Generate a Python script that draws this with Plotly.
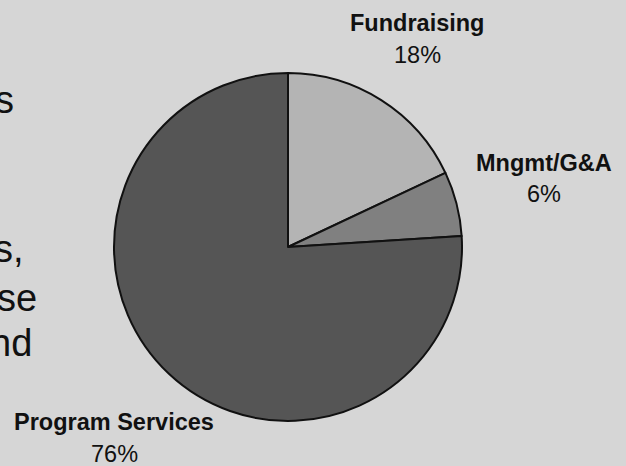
import plotly.graph_objects as go

categories = ["Fundraising", "Mngmt/G&A", "Program Services"]
values = [18, 6, 76]
slice_colors = ["#b4b4b4", "#808080", "#555555"]

# label positions in pixels (x, name line y, percent line y)
label_pos = {
    "Fundraising": (417, 23, 55),
    "Mngmt/G&A": (544, 163, 194),
    "Program Services": (114, 422, 454),
}

# cropped slide text at the left edge (as in the source photo)
side_text = ["s", "s,", "se", "nd"]
side_pos = [(16, 100), (26, 249), (39, 298), (34, 343)]

W, H = 626, 466
fig = go.Figure()
fig.add_trace(go.Pie(
    labels=categories,
    values=values,
    sort=False,
    direction="clockwise",
    rotation=0,
    textinfo="none",
    hoverinfo="label+percent",
    marker=dict(colors=slice_colors, line=dict(color="#111111", width=2)),
    domain=dict(x=[114 / W, 462 / W], y=[1 - 421 / H, 1 - 73 / H]),
    showlegend=False,
))

ann = []
for cat, val in zip(categories, values):
    x, y1, y2 = label_pos[cat]
    ann.append(dict(x=x / W, y=1 - y1 / H, xref="paper", yref="paper",
                    text=f"<b>{cat}</b>", showarrow=False, xanchor="center", yanchor="middle",
                    font=dict(family="Liberation Sans", size=23.5, color="#111111")))
    ann.append(dict(x=x / W, y=1 - y2 / H, xref="paper", yref="paper",
                    text=f"{val}%", showarrow=False, xanchor="center", yanchor="middle",
                    font=dict(family="Liberation Sans", size=23.5, color="#111111")))
for t, (x, y) in zip(side_text, side_pos):
    ann.append(dict(x=x / W, y=1 - y / H, xref="paper", yref="paper", text=t,
                    showarrow=False, xanchor="right", yanchor="middle",
                    font=dict(family="Liberation Sans", size=38, color="#111111")))

fig.update_layout(
    width=W, height=H,
    margin=dict(l=0, r=0, t=0, b=0),
    paper_bgcolor="#d6d6d6",
    plot_bgcolor="#d6d6d6",
    annotations=ann,
)
fig.write_html("out.html")
